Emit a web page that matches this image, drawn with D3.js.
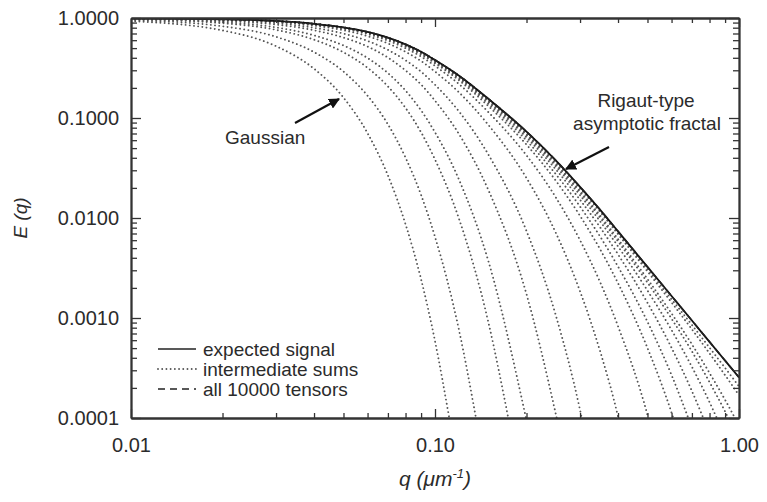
<!DOCTYPE html>
<html>
<head>
<meta charset="utf-8">
<script src="https://cdn.jsdelivr.net/npm/d3@7"></script>
<style>
  body { margin: 0; background: #fff; }
  svg { display: block; font-family: "Liberation Sans", Arial, Helvetica, sans-serif; }
  .axis path, .axis line { stroke: #333; }
  .axis path { stroke-width: 1.8; }
  .axis line { stroke-width: 1.3; }
  .axis text { font-size: 20px; fill: #2b2b2b; }
</style>
</head>
<body>
<svg id="chart" width="767" height="502"></svg>
<script>
// q grid shared by all curves (um^-1)
const qGrid = [0.01, 0.02, 0.03, 0.04, 0.05, 0.06, 0.07, 0.08, 0.09, 0.10, 0.12, 0.15,
  0.20, 0.25, 0.30, 0.35, 0.40, 0.50, 0.60, 0.70, 0.80, 0.90, 1.00]

// expected signal (solid) – the dashed "all 10000 tensors" sits on top of it
const expectedSignal = [0.993, 0.972, 0.935, 0.875, 0.805, 0.725, 0.635, 0.545, 0.46, 0.38, 0.265, 0.155,
  0.073, 0.0375, 0.0205, 0.0120, 0.00736, 0.00324, 0.00166, 0.000943, 0.000577, 0.000375, 0.000255]
const allTensors = expectedSignal

// where each dotted curve leaves the bottom of the plot (null = runs to q = 1)
const sumEnds = [0.1114, 0.1364, 0.1742, 0.1992, 0.2514, 0.3039, 0.4009, 0.503, 0.608, 0.681, 0.763, 0.845, 0.922, 0.970, null, null]

// intermediate sums (dotted), values on qGrid
const intermediateSums = [
  [0.931, 0.751, 0.523, 0.311, 0.160, 0.0705, 0.0267, 0.00867, 0.00244, 0.000589],
  [0.953, 0.826, 0.649, 0.456, 0.291, 0.167, 0.0865, 0.0402, 0.0170, 0.00649, 0.000753],
  [0.970, 0.887, 0.761, 0.607, 0.454, 0.318, 0.207, 0.126, 0.0720, 0.0385, 0.00977, 0.000893],
  [0.977, 0.910, 0.805, 0.670, 0.531, 0.398, 0.281, 0.188, 0.119, 0.0720, 0.0241, 0.00366],
  [0.984, 0.937, 0.860, 0.754, 0.637, 0.518, 0.402, 0.299, 0.216, 0.149, 0.0689, 0.0189, 0.00173],
  [0.987, 0.951, 0.889, 0.798, 0.698, 0.590, 0.480, 0.378, 0.290, 0.215, 0.116, 0.0428, 0.00741, 0.00105, 0.000120],
  [0.991, 0.962, 0.914, 0.838, 0.754, 0.658, 0.557, 0.459, 0.371, 0.291, 0.180, 0.0849, 0.0251, 0.00706, 0.00185, 0.000455, 0.000103],
  [0.992, 0.967, 0.924, 0.856, 0.778, 0.690, 0.594, 0.499, 0.412, 0.332, 0.218, 0.114, 0.0423, 0.0160, 0.00600, 0.00225, 0.000828, 0.000107],
  [0.992, 0.970, 0.929, 0.865, 0.791, 0.705, 0.612, 0.519, 0.433, 0.353, 0.238, 0.131, 0.0541, 0.0235, 0.0105, 0.00481, 0.00223, 0.000501, 0.000113],
  [0.993, 0.971, 0.931, 0.868, 0.795, 0.711, 0.620, 0.527, 0.442, 0.361, 0.246, 0.138, 0.0596, 0.0273, 0.0130, 0.00646, 0.00327, 0.000916, 0.000269],
  [0.993, 0.971, 0.933, 0.870, 0.799, 0.716, 0.625, 0.533, 0.448, 0.368, 0.253, 0.144, 0.0639, 0.0305, 0.0152, 0.00799, 0.00433, 0.00142, 0.000504, 0.000186],
  [0.993, 0.972, 0.934, 0.872, 0.801, 0.719, 0.629, 0.537, 0.452, 0.372, 0.257, 0.147, 0.0669, 0.0327, 0.0169, 0.00919, 0.00520, 0.00188, 0.000759, 0.000325, 0.000144],
  [0.993, 0.972, 0.934, 0.873, 0.802, 0.721, 0.631, 0.540, 0.455, 0.375, 0.259, 0.150, 0.0688, 0.0342, 0.0180, 0.0100, 0.00584, 0.00226, 0.000984, 0.000464, 0.000228, 0.000116],
  [0.993, 0.972, 0.935, 0.873, 0.803, 0.722, 0.632, 0.541, 0.456, 0.376, 0.261, 0.151, 0.0698, 0.0350, 0.0186, 0.0105, 0.00616, 0.00245, 0.00111, 0.000546, 0.000282, 0.000152],
  [0.993, 0.972, 0.935, 0.875, 0.805, 0.724, 0.634, 0.544, 0.459, 0.379, 0.263, 0.154, 0.0718, 0.0366, 0.0198, 0.0114, 0.00689, 0.00292, 0.00143, 0.000771, 0.000443, 0.000268, 0.000169],
  [0.993, 0.972, 0.935, 0.875, 0.805, 0.725, 0.635, 0.545, 0.46, 0.38, 0.264, 0.154, 0.0723, 0.0370, 0.0201, 0.0117, 0.00712, 0.00308, 0.00154, 0.000853, 0.000505, 0.000317, 0.000207]
]

const xTicks = [0.01, 0.1, 1]
const yTicks = [1, 0.1, 0.01, 0.001, 0.0001]
const legendLabels = ['expected signal', 'intermediate sums', 'all 10000 tensors']

const margin = { top: 18, right: 28, bottom: 84, left: 131 }
const width = 767, height = 502
const svg = d3.select('#chart')

const x = d3.scaleLog().domain([0.01, 1]).range([margin.left, width - margin.right])
const y = d3.scaleLog().domain([0.0001, 1]).range([height - margin.bottom, margin.top])

// minor tick values (2..9 in each decade)
const minorX = [], minorY = []
for (const d of [0.01, 0.1]) for (let k = 2; k < 10; k++) minorX.push(d * k)
for (const d of [0.0001, 0.001, 0.01, 0.1]) for (let k = 2; k < 10; k++) minorY.push(d * k)

const dotted = '0.01 4.2'

svg.append('defs').append('clipPath').attr('id', 'plot')
  .append('rect')
  .attr('x', x.range()[0]).attr('y', y.range()[1])
  .attr('width', x.range()[1] - x.range()[0]).attr('height', y.range()[0] - y.range()[1])

svg.select('defs').append('marker')
  .attr('id', 'head').attr('viewBox', '0 0 10 10')
  .attr('refX', 9).attr('refY', 5)
  .attr('markerWidth', 5).attr('markerHeight', 5)
  .attr('markerUnits', 'strokeWidth')
  .attr('orient', 'auto')
  .append('path').attr('d', 'M0,0 L10,5 L0,10 z').attr('fill', '#111')

const line = d3.line()
  .x(d => x(d[0]))
  .y(d => y(d[1]))
  .curve(d3.curveMonotoneX)

const curves = svg.append('g').attr('clip-path', 'url(#plot)')

intermediateSums.forEach((vals, i) => {
  const pts = vals.map((v, j) => [qGrid[j], v])
  if (sumEnds[i] !== null) pts.push([sumEnds[i], 0.0001])
  curves.append('path')
    .attr('d', line(pts))
    .attr('fill', 'none')
    .attr('stroke', '#555')
    .attr('stroke-width', 1.9)
    .attr('stroke-linecap', 'round')
    .attr('stroke-dasharray', dotted)
})

curves.append('path')
  .attr('d', line(expectedSignal.map((v, j) => [qGrid[j], v])))
  .attr('fill', 'none')
  .attr('stroke', '#111')
  .attr('stroke-width', 1.8)

curves.append('path')
  .attr('d', line(allTensors.map((v, j) => [qGrid[j], v])))
  .attr('fill', 'none')
  .attr('stroke', '#222')
  .attr('stroke-width', 1.6)
  .attr('stroke-dasharray', '7 4')

// axes: labelled bottom/left, ticks only on top/right, all ticks inward
const x0 = x.range()[0], x1 = x.range()[1]
const y0 = y.range()[0], y1 = y.range()[1]

svg.append('g').attr('class', 'axis')
  .attr('transform', 'translate(0,' + y0 + ')')
  .call(d3.axisBottom(x).tickValues(xTicks).tickFormat(d3.format('.2f')).tickSizeInner(-9).tickSizeOuter(0).tickPadding(20))
svg.append('g').attr('class', 'axis')
  .attr('transform', 'translate(0,' + y0 + ')')
  .call(d3.axisBottom(x).tickValues(minorX).tickFormat('').tickSizeInner(-5).tickSizeOuter(0))

svg.append('g').attr('class', 'axis')
  .attr('transform', 'translate(0,' + y1 + ')')
  .call(d3.axisTop(x).tickValues(xTicks).tickFormat('').tickSizeInner(-9).tickSizeOuter(0))
svg.append('g').attr('class', 'axis')
  .attr('transform', 'translate(0,' + y1 + ')')
  .call(d3.axisTop(x).tickValues(minorX).tickFormat('').tickSizeInner(-5).tickSizeOuter(0))

svg.append('g').attr('class', 'axis')
  .attr('transform', 'translate(' + x0 + ',0)')
  .call(d3.axisLeft(y).tickValues(yTicks).tickFormat(d3.format('.4f')).tickSizeInner(-10).tickSizeOuter(0).tickPadding(12))
svg.append('g').attr('class', 'axis')
  .attr('transform', 'translate(' + x0 + ',0)')
  .call(d3.axisLeft(y).tickValues(minorY).tickFormat('').tickSizeInner(-6).tickSizeOuter(0))

svg.append('g').attr('class', 'axis')
  .attr('transform', 'translate(' + x1 + ',0)')
  .call(d3.axisRight(y).tickValues(yTicks).tickFormat('').tickSizeInner(-10).tickSizeOuter(0))
svg.append('g').attr('class', 'axis')
  .attr('transform', 'translate(' + x1 + ',0)')
  .call(d3.axisRight(y).tickValues(minorY).tickFormat('').tickSizeInner(-6).tickSizeOuter(0))

// axis titles
svg.append('text')
  .attr('transform', 'translate(27,' + (y0 + y1) / 2 + ') rotate(-90)')
  .attr('text-anchor', 'middle')
  .attr('font-size', 19).attr('font-style', 'italic').attr('fill', '#2b2b2b')
  .text('E (q)')

const xt = svg.append('text')
  .attr('x', (x0 + x1) / 2).attr('y', 486)
  .attr('text-anchor', 'middle')
  .attr('font-size', 21).attr('font-style', 'italic').attr('fill', '#2b2b2b')
xt.append('tspan').text('q (\u03bcm')
xt.append('tspan').attr('dy', -8).attr('font-size', 13).text('-1')
xt.append('tspan').attr('dy', 8).text(')')

// legend
const legend = svg.append('g').attr('font-size', 19).attr('fill', '#2b2b2b')
const dashes = [null, dotted, '7 5']
legendLabels.forEach((lab, i) => {
  const ly = 349 + i * 20
  legend.append('line')
    .attr('x1', 158).attr('x2', 196).attr('y1', ly).attr('y2', ly)
    .attr('stroke', i === 1 ? '#555' : '#222')
    .attr('stroke-width', i === 1 ? 1.9 : 1.6)
    .attr('stroke-linecap', i === 1 ? 'round' : 'butt')
    .attr('stroke-dasharray', dashes[i])
  legend.append('text')
    .attr('x', 203).attr('y', ly).attr('dy', '0.35em')
    .text(lab)
})

// annotations
const notes = svg.append('g').attr('font-size', 19).attr('fill', '#2b2b2b')
notes.append('text').attr('x', 225).attr('y', 144).text('Gaussian')
notes.append('text').attr('x', 646).attr('y', 107).attr('text-anchor', 'middle').text('Rigaut-type')
notes.append('text').attr('x', 647).attr('y', 130).attr('text-anchor', 'middle').text('asymptotic fractal')

svg.append('line')
  .attr('x1', 295).attr('y1', 123).attr('x2', 339).attr('y2', 99)
  .attr('stroke', '#111').attr('stroke-width', 2.2)
  .attr('marker-end', 'url(#head)')
svg.append('line')
  .attr('x1', 609).attr('y1', 147).attr('x2', 566).attr('y2', 169)
  .attr('stroke', '#111').attr('stroke-width', 2.2)
  .attr('marker-end', 'url(#head)')
</script>
</body>
</html>
